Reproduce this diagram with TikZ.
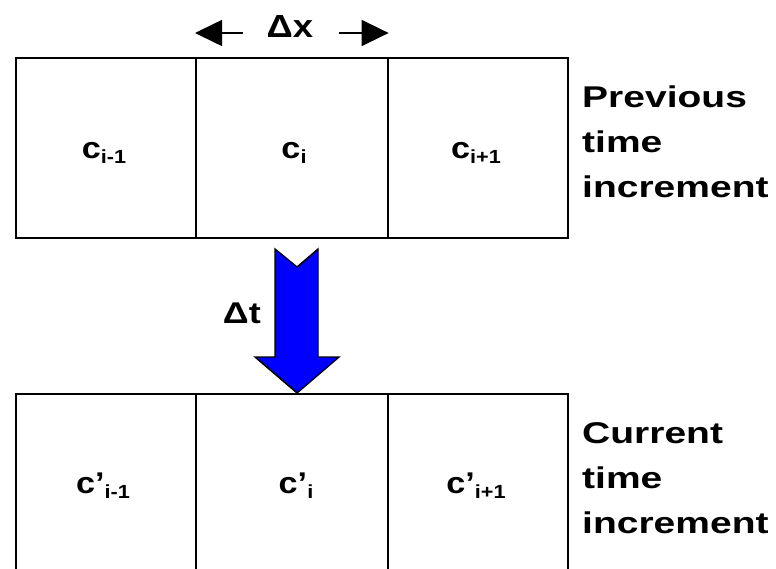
\documentclass[tikz,border=0pt]{standalone}
\usepackage{fontspec}
\setmainfont{Liberation Sans}
\usetikzlibrary{arrows.meta}
% lowered index set after a cell symbol
\newcommand{\cellidx}[1]{\raisebox{-5pt}{\fontsize{19}{19}\selectfont #1}}
% slightly widened lettering
\newcommand{\wdn}[1]{\scalebox{1.14}[1]{#1}}
% three-line side caption, baseline on its last line
\newcommand{\sidecap}[3]{\scalebox{1.3}[1]{\begin{tabular}[b]{@{}l@{}}#1\\#2\\#3\end{tabular}}}
\begin{document}
\begin{tikzpicture}[x=1pt,y=-1pt,
  cell/.style={draw, line width=1.6pt, minimum height=180pt, inner sep=0pt, anchor=north west},
  lbl/.style={font=\bfseries\fontsize{30}{30}\selectfont, anchor=base, inner sep=0pt},
  side/.style={font=\bfseries\fontsize{30}{45}\selectfont, anchor=base west, inner sep=0pt},
  dimarrow/.style={line width=1.6pt, -{Triangle[length=27pt,width=26pt]}},
  flow/.style={fill=blue, draw=black, line width=1.4pt, line join=miter}]
  \clip (0,0) rectangle (776,568);
  \fill[white] (0,0) rectangle (776,568);

  % previous time level
  \node[cell, minimum width=180pt] (p1) at (15,57) {};
  \node[cell, minimum width=192pt] (p2) at (195,57) {};
  \node[cell, minimum width=180pt] (p3) at (387,57) {};
  \node[lbl] (lp1) at (104,158) {\wdn{c\cellidx{i-1}}};
  \node[lbl] (lp2) at (294,158) {\wdn{c\cellidx{i}}};
  \node[lbl] (lp3) at (476,158) {\wdn{c\cellidx{i+1}}};
  \node[side] (prev) at (582,197) {\sidecap{Previous}{time}{increment}};

  % cell width marker
  \node[font=\bfseries\fontsize{32}{32}\selectfont, anchor=base, inner sep=0pt] (dx) at (290,37) {\wdn{Δx}};
  \coordinate (dxl) at (243,33);
  \coordinate (dxr) at (339,33);
  \draw[dimarrow] (dxl) -- (p2.north west |- dxl);
  \draw[dimarrow] (dxr) -- (p2.north east |- dxr);

  % time step
  \draw[flow] (275,249) -- (297,267) -- (318,249) -- (318,357) -- (339,357)
    -- (297,393) -- (255,357) -- (275,357) -- cycle;
  \node[font=\bfseries\fontsize{30}{30}\selectfont, anchor=base east, inner sep=0pt] (dt) at (261,323) {\scalebox{1.2}[1]{Δt}};

  % current time level
  \node[cell, minimum width=180pt] (n1) at (15,393) {};
  \node[cell, minimum width=192pt] (n2) at (195,393) {};
  \node[cell, minimum width=180pt] (n3) at (387,393) {};
  \node[lbl] (ln1) at (103,493) {\wdn{c’\cellidx{i-1}}};
  \node[lbl] (ln2) at (296,493) {\wdn{c’\cellidx{i}}};
  \node[lbl] (ln3) at (476,493) {\wdn{c’\cellidx{i+1}}};
  \node[side] (curr) at (582,533) {\sidecap{Current}{time}{increment}};
\end{tikzpicture}
\end{document}
